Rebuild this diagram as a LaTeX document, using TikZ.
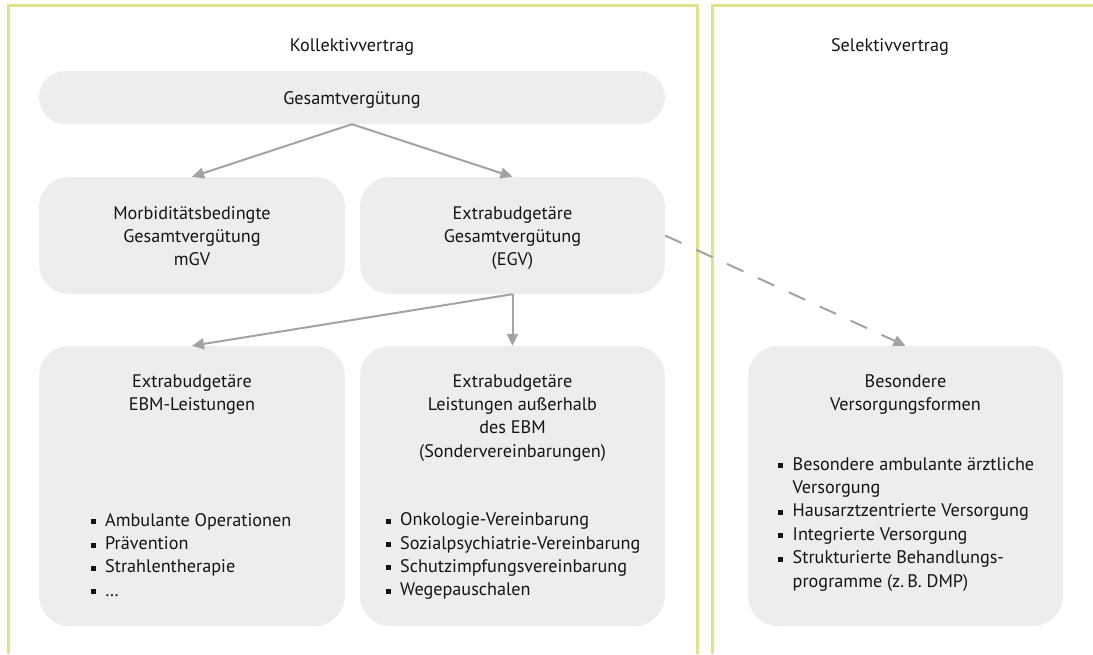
\documentclass[tikz,border=0pt]{standalone}
\usepackage{fontspec}
\setmainfont{PT Sans}
\usetikzlibrary{arrows.meta}
\definecolor{boxfill}{HTML}{EDEDED}
\definecolor{arrowgray}{HTML}{A3A3A3}
\definecolor{panelyellow}{HTML}{E2E08A}
\definecolor{txt}{HTML}{141414}
\newcommand{\bul}{\makebox[14.5pt][l]{\raisebox{2pt}{\rule{5pt}{5pt}}}}
\newcommand{\cont}{\hspace*{14.5pt}}
\tikzset{
  box/.style={fill=boxfill, draw=none, rounded corners=30pt, inner sep=0pt},
  lbl/.style={text=txt, font=\fontsize{18.2}{23.4}\selectfont, inner sep=0pt, align=center},
  lst/.style={text=txt, font=\fontsize{18.2}{23.4}\selectfont, inner sep=0pt, align=left, anchor=north west},
  conn/.style={draw=arrowgray, line width=2pt, -{Triangle[length=12pt,width=11pt]}},
  panel/.style={draw=panelyellow, line width=3pt}
}
\begin{document}
\begin{tikzpicture}[x=1pt,y=-1pt]
\useasboundingbox (0,0) rectangle (1093,654);
% panels
\draw[panel] (8.5,654) -- (8.5,5.5) -- (697,5.5) -- (697,654);
\draw[panel] (712.5,654) -- (712.5,5.5) -- (1093,5.5);
% titles
\node[lbl, anchor=base] (kv) at (352,51) {Kollektivvertrag};
\node[lbl, anchor=base] (sv) at (890,51) {Selektivvertrag};
% boxes
\node[box, rounded corners=26.5pt, minimum width=626pt, minimum height=53pt] (G) at (352,97.5) {};
\node[box, minimum width=306pt, minimum height=117pt] (M) at (192,235.5) {};
\node[box, minimum width=305pt, minimum height=117pt] (E) at (512.5,235.5) {};
\node[box, minimum width=306pt, minimum height=280pt] (BL) at (192,486) {};
\node[box, minimum width=305pt, minimum height=280pt] (BM) at (512.5,486) {};
\node[box, minimum width=315pt, minimum height=280pt] (R) at (905.5,486) {};
% box texts
\node[lbl, anchor=base] (Gt) at (352,104) {Gesamtvergütung};
\node[lbl, anchor=north] (Mt) at (192,202.6) {\strut Morbiditätsbedingte\\Gesamtvergütung\\mGV};
\node[lbl, anchor=north] (Et) at (512.5,202.6) {\strut Extrabudgetäre\\Gesamtvergütung\\(EGV)};
\node[lbl, anchor=north] (BLt) at (192,370.6) {\strut Extrabudgetäre\\EBM-Leistungen};
\node[lbl, anchor=north] (BMt) at (512.5,370.6) {\strut Extrabudgetäre\\Leistungen außerhalb\\des EBM\\(Sondervereinbarungen)};
\node[lbl, anchor=north] (Rt) at (905.5,370.6) {\strut Besondere\\Versorgungsformen};
% lists
\node[lst] (BLl) at (90.5,509.6) {\strut\bul Ambulante Operationen\\\bul Prävention\\\bul Strahlentherapie\\\bul …};
\node[lst] (BMl) at (385.5,509.1) {\strut\bul Onkologie-Vereinbarung\\\bul Sozialpsychiatrie-Vereinbarung\\\bul Schutzimpfungsvereinbarung\\\bul Wegepauschalen};
\node[lst] (Rl) at (778,453.6) {\strut\bul Besondere ambulante ärztliche\\\cont Versorgung\\\bul Hausarztzentrierte Versorgung\\\bul Integrierte Versorgung\\\bul Strukturierte Behandlungs-\\\cont programme (z.\,B. DMP)};
% connectors
\draw[conn] (G.south) -- (M.north);
\draw[conn] (G.south) -- (E.north);
\draw[conn] (E.south) -- (BL.north);
\draw[conn] (E.south) -- (BM.north);
\draw[conn, dash pattern=on 18pt off 16pt] (E.east) -- (R.north);
\end{tikzpicture}
\end{document}
